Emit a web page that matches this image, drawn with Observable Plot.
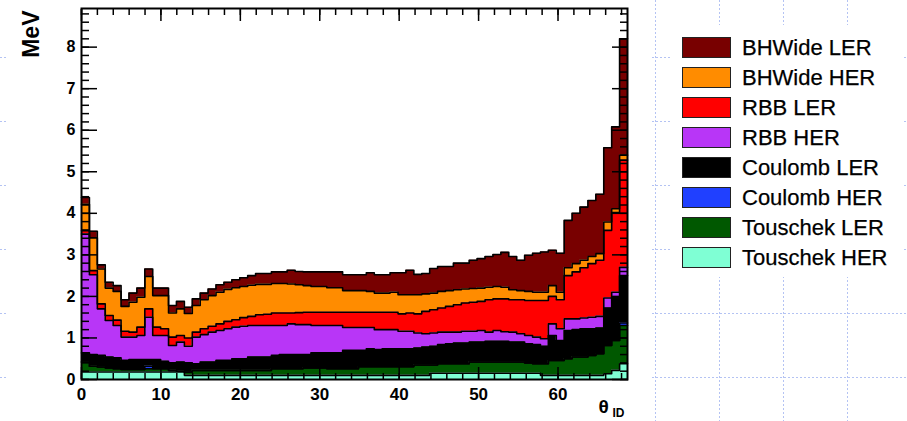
<!DOCTYPE html>
<html>
<head>
<meta charset="utf-8">
<script src="https://cdn.jsdelivr.net/npm/d3@7"></script>
<script src="https://cdn.jsdelivr.net/npm/@observablehq/plot@0.6"></script>
<style>
html, body { margin: 0; padding: 0; }
body {
  width: 907px; height: 421px; overflow: hidden; position: relative;
  background: #fff url("data:image/svg+xml,%3Csvg xmlns='http://www.w3.org/2000/svg' width='64' height='64'%3E%3Cpath d='M0 57.5H64M15.5 0V64' stroke='%23b4c3f3' stroke-width='1' stroke-dasharray='2 2' fill='none'/%3E%3C/svg%3E");
  font-family: "Liberation Sans", Arial, sans-serif;
}
#canvas { position: absolute; left: 6px; top: 0; width: 646px; height: 421px; background: #fff; }
#chart { position: absolute; left: 0; top: 0; }
#legend { position: absolute; left: 672px; top: 25px; width: 232px; height: 252px; background: #fff; }
.item { position: absolute; left: 10px; height: 21px; }
.box { position: absolute; left: 0; top: 0; width: 49px; height: 21px; box-sizing: border-box; border: 1.5px solid #222; }
.lab { position: absolute; left: 60px; top: 0; font-size: 22px; line-height: 21px; white-space: nowrap; color: #000; -webkit-text-stroke: 0.25px #000; }
</style>
</head>
<body>
<div id="canvas"></div>
<div id="chart"></div>
<div id="legend"></div>
<script>
// ---- data ----
const series = ["BHWide LER", "BHWide HER", "RBB LER", "RBB HER", "Coulomb LER", "Coulomb HER", "Touschek LER", "Touschek HER"];
const colors = ["#780000", "#ff8c00", "#ff0000", "#b836f7", "#000000", "#2040ff", "#005800", "#7fffd4"];
const thetaMax = 68.75;   // upper edge of the theta axis
const nBins = 69;

const bhwideLER = [
  0.16,0.16,0.10,0.14,0.14,0.16,0.22,0.22,0.18,0.18,
  0.18,0.18,0.18,0.15,0.16,0.16,0.16,0.18,0.17,0.19,
  0.21,0.23,0.26,0.26,0.28,0.28,0.33,0.32,0.33,0.35,
  0.35,0.38,0.38,0.38,0.38,0.38,0.45,0.44,0.44,0.47,
  0.53,0.59,0.49,0.49,0.59,0.60,0.58,0.64,0.62,0.68,
  0.71,0.74,0.77,0.84,0.80,0.73,0.87,0.94,0.97,0.85,
  0.94,1.14,1.21,1.28,1.35,1.43,1.79,1.97,2.80];
const bhwideHER = [
  0.64,0.79,0.84,0.66,0.69,0.60,0.72,0.72,0.78,0.76,
  0.80,0.58,0.64,0.59,0.64,0.70,0.74,0.76,0.77,0.77,
  0.75,0.75,0.73,0.72,0.71,0.71,0.70,0.67,0.64,0.62,
  0.62,0.59,0.59,0.52,0.52,0.52,0.50,0.46,0.46,0.48,
  0.46,0.44,0.46,0.42,0.40,0.40,0.38,0.36,0.34,0.33,
  0.32,0.30,0.30,0.28,0.24,0.22,0.22,0.20,0.20,0.26,
  0.18,0.19,0.20,0.18,0.17,0.16,0.20,0.09,0.12];
const rbbLER = [
  0.08,0.10,0.12,0.12,0.13,0.14,0.12,0.20,0.20,0.20,
  0.16,0.20,0.16,0.20,0.12,0.14,0.14,0.16,0.18,0.18,
  0.21,0.22,0.26,0.27,0.30,0.30,0.26,0.29,0.30,0.32,
  0.32,0.32,0.32,0.37,0.37,0.37,0.37,0.42,0.42,0.42,
  0.42,0.44,0.46,0.54,0.56,0.58,0.62,0.66,0.68,0.70,
  0.70,0.78,0.76,0.79,0.78,0.82,0.84,0.88,0.92,0.66,
  0.70,1.04,1.13,1.21,1.29,1.35,1.63,1.92,2.58];
const rbbHER = [
  2.86,1.92,1.12,0.88,0.78,0.56,0.54,0.58,1.02,0.58,
  0.62,0.42,0.48,0.40,0.64,0.66,0.72,0.72,0.76,0.76,
  0.78,0.76,0.76,0.76,0.72,0.70,0.74,0.72,0.72,0.66,
  0.66,0.66,0.66,0.55,0.55,0.55,0.51,0.48,0.46,0.46,
  0.42,0.42,0.36,0.32,0.32,0.30,0.28,0.26,0.28,0.26,
  0.28,0.22,0.26,0.23,0.24,0.20,0.20,0.18,0.18,0.28,
  0.28,0.28,0.26,0.26,0.28,0.28,0.24,0.12,0.20];
const coulombLER = [
  0.22,0.28,0.28,0.26,0.26,0.22,0.24,0.24,0.16,0.22,
  0.18,0.18,0.22,0.22,0.16,0.20,0.20,0.24,0.24,0.28,
  0.28,0.32,0.32,0.32,0.32,0.34,0.34,0.34,0.32,0.36,
  0.36,0.38,0.38,0.44,0.44,0.39,0.43,0.41,0.43,0.43,
  0.43,0.43,0.41,0.43,0.45,0.46,0.48,0.50,0.50,0.48,
  0.48,0.50,0.50,0.50,0.48,0.48,0.46,0.46,0.42,0.60,
  0.48,0.68,0.66,0.68,0.64,0.62,0.90,1.04,1.14];
const coulombHER = [
  0,0,0,0,0,0,0,0,0.06,0,
  0,0,0,0,0,0,0,0,0,0,
  0,0,0,0,0,0,0,0,0,0,
  0,0,0,0,0,0,0,0,0,0,
  0,0,0,0,0,0,0,0,0,0,
  0,0,0,0,0,0,0,0,0,0,
  0,0,0,0,0,0,0,0,0.06];
const touschekLER = [
  0.24,0.14,0.12,0.10,0.08,0.06,0.06,0.06,0.08,0.08,
  0.08,0.04,0.02,0.08,0.12,0.12,0.12,0.12,0.12,0.12,
  0.12,0.12,0.12,0.12,0.16,0.16,0.16,0.16,0.18,0.18,
  0.18,0.16,0.16,0.16,0.16,0.21,0.21,0.21,0.21,0.21,
  0.21,0.21,0.25,0.25,0.20,0.23,0.23,0.23,0.23,0.27,
  0.27,0.27,0.27,0.27,0.27,0.27,0.25,0.23,0.28,0.36,
  0.36,0.40,0.44,0.44,0.48,0.52,0.68,0.72,0.92];
const touschekHER = [
  0.18,0.18,0.18,0.18,0.18,0.18,0.18,0.18,0.18,0.18,
  0.18,0.18,0.18,0.10,0.10,0.10,0.10,0.10,0.10,0.10,
  0.10,0.10,0.10,0.10,0.10,0.10,0.10,0.10,0.10,0.10,
  0.10,0.10,0.10,0.10,0.10,0.10,0.10,0.10,0.10,0.10,
  0.10,0.10,0.10,0.10,0.15,0.15,0.15,0.15,0.15,0.15,
  0.15,0.15,0.15,0.15,0.15,0.15,0.15,0.15,0.10,0.10,
  0.10,0.10,0.10,0.10,0.10,0.10,0.14,0.22,0.38];

const values = [bhwideLER, bhwideHER, rbbLER, rbbHER, coulombLER, coulombHER, touschekLER, touschekHER];
const xTicks = [0, 10, 20, 30, 40, 50, 60];
const yTicks = [0, 1, 2, 3, 4, 5, 6, 7, 8];
const xMinorTicks = d3.range(0, 69, 2);
const yMinorTicks = d3.range(0, 45).map(i => +(i * 0.2).toFixed(1));

// ---- table (one row per bin edge; last edge repeats the last bin for step drawing) ----
const binWidth = thetaMax / nBins;
const table = [];
series.forEach((s, k) => {
  const v = values[k];
  for (let i = 0; i <= nBins; i++) {
    table.push({series: s, theta: i * binWidth, value: v[Math.min(i, nBins - 1)]});
  }
});
const stackOrder = series.slice().reverse(); // bottom first

const font = "Liberation Sans, Arial, sans-serif";
const chart = Plot.plot({
  width: 652,
  height: 421,
  marginLeft: 81,
  marginRight: 25,
  marginTop: 8,
  marginBottom: 42,
  style: {background: "transparent", fontFamily: font},
  x: {domain: [0, thetaMax], label: null},
  y: {domain: [0, 8.93], label: null},
  color: {domain: series, range: colors},
  marks: [
    Plot.areaY(table, {x: "theta", y: "value", fill: "series", order: stackOrder, curve: "step-after"}),
    Plot.lineY(table, Plot.stackY2({x: "theta", y: "value", z: "series", order: stackOrder, curve: "step-after", stroke: "#000", strokeWidth: 1.6})),
    // tick labels
    Plot.axisX({anchor: "bottom", ticks: xTicks, tickSize: 0, tickPadding: 8, stroke: "none", fontSize: 17, fontWeight: "bold", label: null}),
    Plot.axisY({anchor: "left", ticks: yTicks, tickSize: 0, tickPadding: 6, stroke: "none", fontSize: 16, fontWeight: "bold", label: null}),
    // inward ticks on all four sides
    Plot.axisX({anchor: "bottom", ticks: xTicks, tickSize: -12, fill: "none", stroke: "#000", strokeWidth: 1.5, label: null}),
    Plot.axisX({anchor: "bottom", ticks: xMinorTicks, tickSize: -6, fill: "none", stroke: "#000", strokeWidth: 1.5, label: null}),
    Plot.axisX({anchor: "top", ticks: xTicks, tickSize: -12, fill: "none", stroke: "#000", strokeWidth: 1.5, label: null}),
    Plot.axisX({anchor: "top", ticks: xMinorTicks, tickSize: -6, fill: "none", stroke: "#000", strokeWidth: 1.5, label: null}),
    Plot.axisY({anchor: "left", ticks: yTicks, tickSize: -16, fill: "none", stroke: "#000", strokeWidth: 1.5, label: null}),
    Plot.axisY({anchor: "left", ticks: yMinorTicks, tickSize: -8, fill: "none", stroke: "#000", strokeWidth: 1.5, label: null}),
    Plot.axisY({anchor: "right", ticks: yTicks, tickSize: -16, fill: "none", stroke: "#000", strokeWidth: 1.5, label: null}),
    Plot.axisY({anchor: "right", ticks: yMinorTicks, tickSize: -8, fill: "none", stroke: "#000", strokeWidth: 1.5, label: null}),
    Plot.frame({stroke: "#000", strokeWidth: 2}),
    // axis titles
    Plot.text(["MeV"], {frameAnchor: "top-left", text: d => d, rotate: -90, textAnchor: "end", lineAnchor: "bottom", dx: -43, dy: 2, fontSize: 23, fontWeight: "bold"}),
    Plot.text(["θ"], {frameAnchor: "bottom-right", text: d => d, textAnchor: "start", lineAnchor: "bottom", dx: -29, dy: 33, fontSize: 19, fontWeight: "bold"}),
    Plot.text(["ID"], {frameAnchor: "bottom-right", text: d => d, textAnchor: "start", lineAnchor: "bottom", dx: -15, dy: 37, fontSize: 12, fontWeight: "bold"})
  ]
});
document.getElementById("chart").appendChild(chart);

// ---- legend ----
const legend = document.getElementById("legend");
series.forEach((s, i) => {
  const item = document.createElement("div");
  item.className = "item";
  item.style.top = (12 + 30 * i) + "px";
  const box = document.createElement("div");
  box.className = "box";
  box.style.background = colors[i];
  const lab = document.createElement("div");
  lab.className = "lab";
  lab.textContent = s;
  item.appendChild(box);
  item.appendChild(lab);
  legend.appendChild(item);
});
</script>
</body>
</html>
